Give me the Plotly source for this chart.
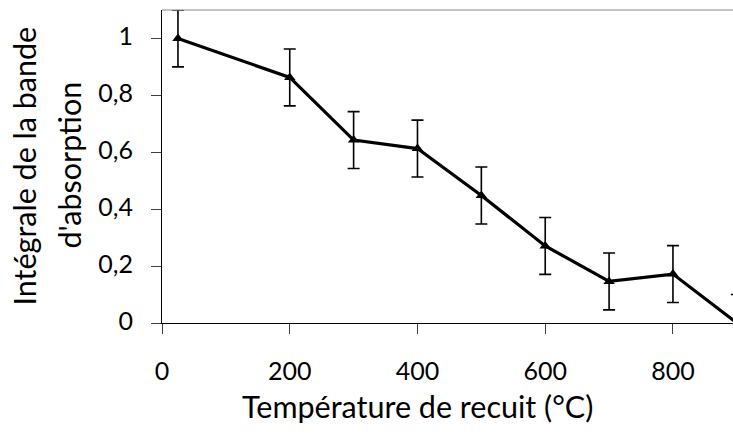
import plotly.graph_objects as go

temperature = [25, 200, 300, 400, 500, 600, 700, 800, 900]
integrale = [1.0, 0.863, 0.643, 0.613, 0.448, 0.271, 0.146, 0.172, 0.0]
erreur = [0.1, 0.1, 0.1, 0.1, 0.1, 0.1, 0.1, 0.1, 0.1]
x_ticks = [0, 200, 400, 600, 800]
y_ticks = [0, 0.2, 0.4, 0.6, 0.8, 1]
y_tick_labels = ["0", "0,2", "0,4", "0,6", "0,8", "1"]

FONT = "Lato"
W, H = 733, 437
L, R, T, B = 162, 0, 10, 114

fig = go.Figure()
fig.add_trace(go.Scatter(
    x=temperature, y=integrale,
    mode="lines+markers",
    line=dict(color="black", width=3.2),
    marker=dict(symbol="triangle-up", size=10, color="black"),
    error_y=dict(type="data", array=erreur, visible=True,
                 color="black", thickness=1.6, width=6),
    showlegend=False,
))

fig.update_layout(
    width=W, height=H,
    margin=dict(l=L, r=R, t=T, b=B, pad=0),
    paper_bgcolor="white", plot_bgcolor="white",
    font=dict(family=FONT, color="black"),
    xaxis=dict(range=[0, 894], tickvals=x_ticks, ticks="outside", ticklen=10,
               tickcolor="#404040", tickwidth=1, showline=True, linecolor="black",
               linewidth=1, showgrid=False, zeroline=False,
               tickfont=dict(family=FONT, size=25, color="black"),
               ticklabelstandoff=16),
    yaxis=dict(range=[0, 1.1], tickvals=y_ticks, ticktext=y_tick_labels,
               ticks="outside", ticklen=10, tickcolor="#404040", tickwidth=1,
               showline=True, linecolor="black", linewidth=1,
               showgrid=False, zeroline=False,
               tickfont=dict(family=FONT, size=25, color="black"),
               ticklabelstandoff=13, ticklabelshift=-2),
    shapes=[dict(type="line", xref="paper", yref="paper", x0=0, x1=1, y0=1, y1=1,
                 line=dict(color="#888888", width=1))],
    annotations=[
        dict(text="Température de recuit (°C)", xref="paper", yref="paper",
             x=(417.5 - L) / (W - L - R), y=0, xanchor="center", yanchor="middle",
             yshift=-83, showarrow=False, font=dict(family=FONT, size=30.5, color="black")),
        dict(text="Intégrale de la bande", xref="paper", yref="paper",
             x=0, y=0.5, xshift=-139, yshift=0, xanchor="center", yanchor="middle",
             textangle=-90, showarrow=False, font=dict(family=FONT, size=30.5, color="black")),
        dict(text="d'absorption", xref="paper", yref="paper",
             x=0, y=0.5, xshift=-94, yshift=1, xanchor="center", yanchor="middle",
             textangle=-90, showarrow=False, font=dict(family=FONT, size=30.5, color="black")),
    ],
)

fig.write_html("out.html",
               config={"displayModeBar": False},
               post_script="document.body.style.margin='0';document.body.style.overflow='hidden';")
